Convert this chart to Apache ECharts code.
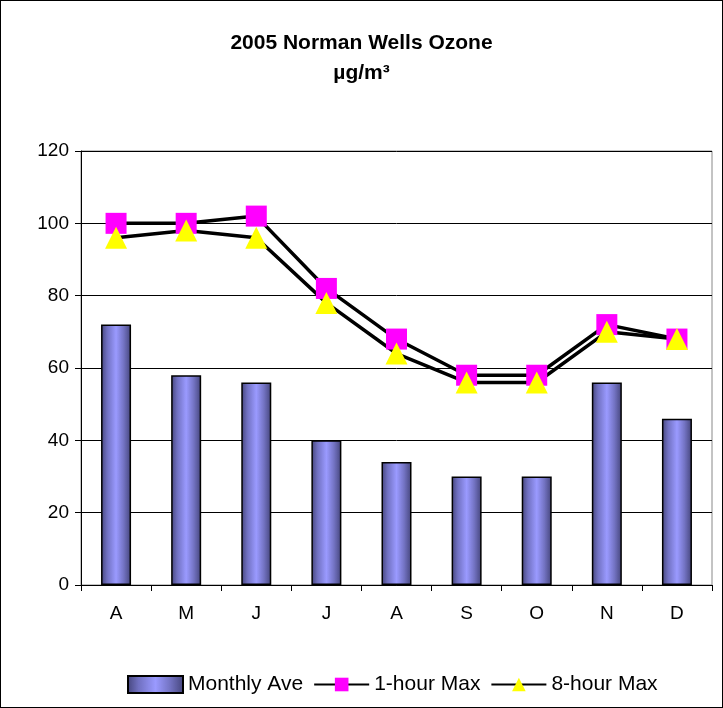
<!DOCTYPE html>
<html>
<head>
<meta charset="utf-8">
<script src="https://cdn.jsdelivr.net/npm/echarts@6/dist/echarts.min.js"></script>
<style>
  html, body { margin: 0; padding: 0; background: #fff; }
  #chart { width: 723px; height: 708px; box-sizing: border-box; border: 1px solid #000; }
</style>
</head>
<body>
<div id="chart"></div>
<script>
const months = ['A', 'M', 'J', 'J', 'A', 'S', 'O', 'N', 'D']
const monthlyAve = [72, 58, 56, 40, 34, 30, 30, 56, 46]
const oneHourMax = [100, 100, 102, 82, 68, 58, 58, 72, 68]
const eightHourMax = [96, 98, 96, 78, 64, 56, 56, 70, 68]
const yTicks = [0, 20, 40, 60, 80, 100, 120]

const font = 'Liberation Sans, Arial, sans-serif'

const barFill = new echarts.graphic.LinearGradient(0, 0, 1, 0, [
  { offset: 0, color: '#44447a' },
  { offset: 0.2, color: '#7070c0' },
  { offset: 0.5, color: '#9a9aff' },
  { offset: 0.75, color: '#7474c4' },
  { offset: 1, color: '#44447a' }
])

const chart = echarts.init(document.getElementById('chart'))

chart.setOption({
  animation: false,
  title: {
    text: '2005 Norman Wells Ozone\nµg/m³',
    left: 'center',
    top: 22,
    textStyle: {
      fontFamily: font,
      fontSize: 21,
      fontWeight: 'bold',
      color: '#000',
      lineHeight: 30
    }
  },
  legend: {
    bottom: 7,
    left: 121,
    itemGap: 10,
    itemWidth: 55,
    itemHeight: 17,
    textStyle: { fontFamily: font, fontSize: 21, color: '#000' },
    data: [
      { name: 'Monthly Ave', icon: 'rect' },
      { name: '1-hour Max' },
      { name: '8-hour Max' }
    ]
  },
  grid: {
    left: 80,
    right: 10,
    top: 150,
    bottom: 122,
    show: true,
    borderColor: '#888',
    borderWidth: 1
  },
  xAxis: {
    type: 'category',
    data: months,
    axisLine: { lineStyle: { color: '#000', width: 1 } },
    axisTick: { show: true, alignWithLabel: false, length: 6, lineStyle: { color: '#000' } },
    axisLabel: { fontFamily: font, fontSize: 19, color: '#000', margin: 19 }
  },
  yAxis: {
    type: 'value',
    min: yTicks[0],
    max: yTicks[yTicks.length - 1],
    interval: 20,
    axisLine: { show: true, lineStyle: { color: '#000', width: 1 } },
    axisTick: { show: true, length: 6, lineStyle: { color: '#000' } },
    axisLabel: { fontFamily: font, fontSize: 19, color: '#000', margin: 12 },
    splitLine: { lineStyle: { color: '#000', width: 1 } }
  },
  series: [
    {
      name: 'Monthly Ave',
      type: 'bar',
      data: monthlyAve,
      barWidth: 30,
      itemStyle: { color: barFill, borderColor: '#000', borderWidth: 1.5 }
    },
    {
      name: '1-hour Max',
      type: 'line',
      data: oneHourMax,
      symbol: 'rect',
      symbolSize: 21,
      lineStyle: { color: '#000', width: 3.5 },
      itemStyle: { color: '#ff00ff', borderWidth: 0 }
    },
    {
      name: '8-hour Max',
      type: 'line',
      data: eightHourMax,
      symbol: 'triangle',
      symbolSize: 22,
      lineStyle: { color: '#000', width: 3.5 },
      itemStyle: { color: '#ffff00', borderWidth: 0 }
    }
  ]
})
</script>
</body>
</html>
